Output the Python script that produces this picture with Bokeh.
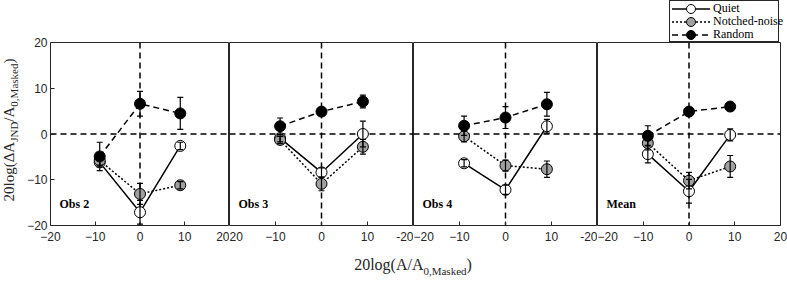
from bokeh.plotting import figure
from bokeh.models import (ColumnDataSource, Whisker, TeeHead, Span, Label,
                          FixedTicker, LinearAxis, Range1d, Div)
from bokeh.layouts import row, column
from bokeh.embed import file_html
from bokeh.resources import INLINE

# ---------------- data ----------------
x_levels = [-9, 0, 9]
panel_names = ["Obs 2", "Obs 3", "Obs 4", "Mean"]
axis_ticks = [-20, -10, 0, 10, 20]
ref_level = 0

quiet_y = [[-6.2, -17.1, -2.6], [-0.9, -8.4, 0.0], [-6.4, -12.2, 1.7], [-4.4, -12.5, -0.2]]
quiet_err = [[1.0, 2.6, 0.8], [0.8, 1.0, 2.8], [0.8, 1.0, 1.5], [1.9, 2.6, 1.3]]
notched_y = [[-5.8, -13.1, -11.2], [-1.3, -10.9, -2.8], [-0.5, -6.9, -7.7], [-2.0, -10.2, -7.1]]
notched_err = [[1.0, 2.3, 0.8], [0.8, 1.5, 1.6], [1.2, 1.2, 1.8], [1.5, 1.8, 2.4]]
random_y = [[-4.9, 6.6, 4.5], [1.7, 4.9, 7.1], [1.8, 3.6, 6.5], [-0.4, 4.9, 6.0]]
random_err = [[3.1, 2.7, 3.5], [1.8, 0.8, 1.4], [2.1, 2.4, 2.6], [2.2, 0.8, 0.8]]

series_names = ["Quiet", "Notched-noise", "Random"]

# ---------------- styling ----------------
SERIF = "Liberation Serif"
SANS = "Liberation Sans"
AX = "#262626"
series_fill = ["white", "#a0a0a0", "black"]
series_dash = ["solid", "2 2", "6 4"]
series_values = [(quiet_y, quiet_err), (notched_y, notched_err), (random_y, random_err)]

FRAME_WS = [184, 184, 184, 183]
FRAME_H = 183
TOP, BOTTOM = 42, 22
LEFT0, RIGHT3 = 21, 7
YLAB_W = 24
XLAB_H = 37
FIG_H = TOP + FRAME_H + BOTTOM

label_overrides = [
    {},
    {-20: "20", 20: "-20"},
    {20: "-20"},
    {},
]


def style_axis(ax, overrides=None):
    ax.axis_line_color = None
    ax.major_tick_line_color = AX
    ax.major_tick_in = 4
    ax.major_tick_out = 0
    ax.minor_tick_line_color = None
    ax.major_label_text_font = SANS
    ax.major_label_text_font_size = "12px"
    ax.major_label_text_color = AX
    ax.major_label_standoff = 6
    if overrides:
        ax.major_label_overrides = overrides


figs = []
for i, name in enumerate(panel_names):
    left = LEFT0 if i == 0 else 0
    right = RIGHT3 if i == 3 else 0
    top = 0 if i == 3 else TOP
    p = figure(width=FRAME_WS[i] + left + right, height=top + FRAME_H + BOTTOM,
               x_range=Range1d(-20, 20), y_range=Range1d(-20, 20),
               output_backend="svg", toolbar_location=None,
               x_axis_location=None, y_axis_location=None,
               min_border_left=left, min_border_right=right,
               min_border_top=top, min_border_bottom=BOTTOM)
    p.border_fill_color = "white"
    p.background_fill_color = "white"
    p.outline_line_color = AX
    p.outline_line_width = 1
    p.grid.visible = False

    bx = LinearAxis(ticker=FixedTicker(ticks=axis_ticks))
    style_axis(bx, label_overrides[i])
    p.add_layout(bx, "below")
    if i == 0:
        ly = LinearAxis(ticker=FixedTicker(ticks=axis_ticks))
        style_axis(ly)
        ly.major_label_standoff = 3
        p.add_layout(ly, "left")

    p.add_layout(Span(location=ref_level, dimension="width", line_color="black",
                      line_width=1.5, line_dash="6 4", level="underlay"))
    p.add_layout(Span(location=ref_level, dimension="height", line_color="black",
                      line_width=1.5, line_dash="6 4", level="underlay"))

    for s, (ys, es) in enumerate(series_values):
        yv = ys[i]
        ev = es[i]
        src = ColumnDataSource(dict(
            x=x_levels, y=yv,
            lower=[a - b for a, b in zip(yv, ev)],
            upper=[a + b for a, b in zip(yv, ev)]))
        p.line("x", "y", source=src, line_color="black", line_width=1.5,
               line_dash=series_dash[s])
        w = Whisker(base="x", lower="lower", upper="upper", source=src,
                    line_color="black", line_width=1.2, level="glyph",
                    upper_head=TeeHead(size=6, line_color="black", line_width=1.2),
                    lower_head=TeeHead(size=6, line_color="black", line_width=1.2))
        p.add_layout(w)
        p.scatter("x", "y", source=src, marker="circle", size=11,
                  fill_color=series_fill[s], line_color="black", line_width=1)

    p.add_layout(Label(x=9, y=22, x_units="screen", y_units="screen", text=name,
                       text_font=SERIF, text_font_style="bold", text_font_size="12px",
                       text_baseline="middle", text_color="black"))
    figs.append(p)

# ---------------- legend (HTML box above the last panel) ----------------
svg_dash = {"solid": "", "2 2": "2 2", "6 4": "6 4"}
rows_html = ""
for s, nm in enumerate(series_names):
    dash = svg_dash[series_dash[s]]
    dash_attr = f' stroke-dasharray="{dash}"' if dash else ""
    rows_html += (
        '<div style="height:13px;display:flex;align-items:center;white-space:nowrap;">'
        '<svg width="40" height="12" style="flex:none;">'
        f'<line x1="1" y1="6" x2="39" y2="6" stroke="black" stroke-width="1.5"{dash_attr}/>'
        f'<circle cx="20" cy="6" r="4.5" fill="{series_fill[s]}" stroke="black" stroke-width="1"/>'
        f'</svg><span style="margin-left:2px;">{nm}</span></div>'
    )
LEG_W = FRAME_WS[3] + RIGHT3
legend_html = (
    f'<div style="position:relative;width:{LEG_W}px;height:{TOP}px;">'
    f'<div style="position:absolute;left:72px;top:0px;width:110px;height:{TOP}px;'
    'box-sizing:border-box;border:1px solid #262626;background:white;padding:1px 0 0 1px;'
    "font-family:'Liberation Serif';font-size:12px;line-height:13px;color:black;\">"
    + rows_html + '</div></div>'
)
legdiv = Div(text=legend_html, width=LEG_W, height=TOP, margin=0)

ylab_html = (
    f'<div style="position:relative;width:{YLAB_W}px;height:{FIG_H}px;">'
    '<div style="position:absolute;left:2px;top:130px;transform:translate(0,-50%) rotate(180deg);'
    'writing-mode:vertical-rl;white-space:nowrap;font-family:\'Liberation Serif\';'
    'font-size:15px;line-height:15px;color:#262626;">'
    '20log(\u0394A<span style="font-size:11px;vertical-align:-5px;">JND</span>'
    '/A<span style="font-size:11px;vertical-align:-5px;">0,Masked</span>)</div></div>'
)
TOTAL_W = YLAB_W + LEFT0 + sum(FRAME_WS) + RIGHT3
xlab_html = (
    f'<div style="position:relative;width:{TOTAL_W}px;height:{XLAB_H}px;">'
    '<div style="position:absolute;left:413px;top:10px;transform:translateX(-50%);'
    'white-space:nowrap;font-family:\'Liberation Serif\';font-size:16px;line-height:16px;'
    'color:#262626;">'
    '20log(A/A<span style="font-size:11px;vertical-align:-5px;">0,Masked</span>)</div></div>'
)
ylab = Div(text=ylab_html, width=YLAB_W, height=FIG_H, margin=0)
xlab = Div(text=xlab_html, width=TOTAL_W, height=XLAB_H, margin=0)

layout = column(row(ylab, figs[0], figs[1], figs[2], column(legdiv, figs[3])), xlab)
open("out.html", "w").write(file_html(layout, INLINE))
